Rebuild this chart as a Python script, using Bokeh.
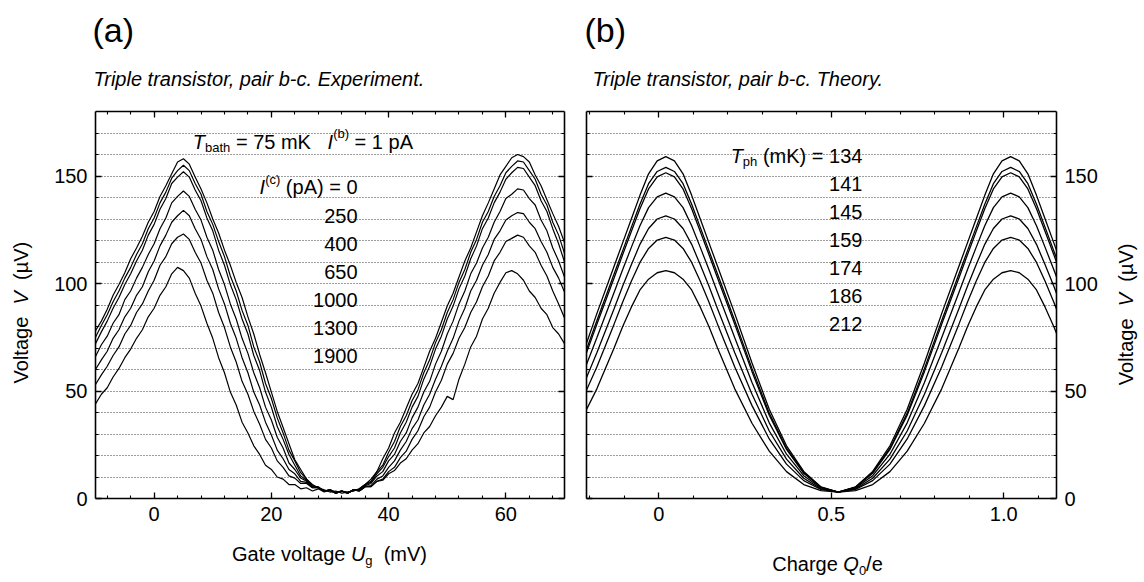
import math
from bokeh.plotting import figure
from bokeh.models import LinearAxis, FixedTicker, Label, Range1d
from bokeh.layouts import row, column
from bokeh.embed import file_html
from bokeh.resources import INLINE

# ---------------- data ----------------
# panel (a): gate voltage in mV, voltage in microvolts
gate_mV = list(range(-10, 71))
exp_0pA = [78, 82.5, 88, 94.5, 99.5, 105, 111.5, 116.5, 122, 128.5,
           133.5, 140.5, 145.5, 151, 156.5, 158, 155.5, 149.5, 144, 137.5,
           130, 123.5, 115.5, 108.5, 100.5, 93.5, 84.5, 76.5, 67, 58.5,
           49.5, 40.5, 33, 25.5, 18, 13.5, 9, 6.5, 5, 4,
           3, 3.5, 2.5, 3, 3.5, 4.5, 6.5, 9, 12.5, 18.5,
           23.5, 30.5, 35.5, 42, 48.5, 53.5, 61, 68.5, 74.5, 82,
           89.5, 95.5, 103, 110.5, 116.5, 124, 131.5, 137.5, 144, 150.5,
           154.5, 158.5, 160, 159, 156.5, 150.5, 145.5, 139, 132.5, 126.5,
           119]
exp_250pA = [75, 80.5, 85.5, 91.5, 96.5, 102.5, 107.5, 113.5, 118.5, 125.5,
             130.5, 137.5, 142.5, 149, 152.5, 155, 152.5, 146.5, 141.5, 133.5,
             127.5, 119.5, 112.5, 103.5, 96.5, 87.5, 80.5, 70.5, 63.5, 53.5,
             46.5, 37.5, 30.5, 22.5, 17.5, 12, 9, 6, 5, 3.5,
             3.5, 2.5, 3.5, 3, 3.5, 4.5, 6.5, 8, 12.5, 15.5,
             21.5, 26.5, 33.5, 38.5, 45.5, 50.5, 58.5, 64.5, 72.5, 78.5,
             86.5, 92.5, 100.5, 106.5, 114.5, 120.5, 128.5, 133.5, 140.5, 145.5,
             151.5, 154.5, 157, 156.5, 152.5, 148.5, 141.5, 136.5, 128.5, 122.5,
             114]
exp_400pA = [72, 77.5, 82.5, 88.5, 93.5, 99.5, 104.5, 110.5, 115.5, 122.5,
             127.5, 134.5, 139.5, 146.5, 149.5, 152, 149.5, 143.5, 138.5, 130.5,
             124.5, 115.5, 108.5, 99.5, 92.5, 83.5, 76.5, 66.5, 59.5, 49.5,
             42.5, 33.5, 27.5, 20.5, 15.5, 10.5, 8.5, 5.5, 5, 3.5,
             4, 2.5, 3.5, 2.5, 4, 4, 6.5, 7.5, 11.5, 14.5,
             19.5, 23.5, 30.5, 35.5, 42.5, 47.5, 55.5, 61.5, 69.5, 75.5,
             83.5, 89.5, 97.5, 103.5, 111.5, 117.5, 125.5, 130.5, 137.5, 142.5,
             148.5, 151.5, 154, 153.5, 149.5, 145.5, 138.5, 133.5, 125.5, 118.5,
             110]
exp_650pA = [66, 71.5, 75.5, 81.5, 85.5, 92.5, 96.5, 102.5, 107.5, 113.5,
             118.5, 125.5, 130.5, 137.5, 140.5, 143, 140.5, 134.5, 129.5, 121.5,
             115.5, 106.5, 99.5, 90.5, 83.5, 74.5, 67.5, 58.5, 51.5, 42.5,
             36.5, 28.5, 23.5, 16.5, 13.5, 9.5, 8, 5.5, 5.5, 3.5,
             4, 2.5, 3.5, 2.5, 4, 4, 6, 7, 10.5, 12.5,
             17.5, 20.5, 26.5, 30.5, 37.5, 42.5, 49.5, 54.5, 62.5, 68.5,
             76.5, 82.5, 90.5, 96.5, 104.5, 109.5, 116.5, 121.5, 128.5, 133.5,
             139.5, 141.5, 144, 143.5, 139.5, 136.5, 129.5, 124.5, 116.5, 110.5,
             103]
exp_1000pA = [60, 64.5, 68.5, 74.5, 78.5, 84.5, 88.5, 94.5, 98.5, 105.5,
              110.5, 117.5, 122.5, 128.5, 131.5, 134, 131.5, 125.5, 120.5, 112.5,
              106.5, 97.5, 90.5, 81.5, 74.5, 65.5, 58.5, 49.5, 43.5, 35.5,
              29.5, 22.5, 18.5, 13.5, 11.5, 8, 7.5, 5, 5, 3.5,
              4, 2.5, 3.5, 2.5, 4, 3.5, 5.5, 6, 9, 10.5,
              14.5, 17.5, 22.5, 26.5, 32.5, 36.5, 43.5, 48.5, 55.5, 61.5,
              68.5, 74.5, 82.5, 88.5, 96.5, 101.5, 108.5, 113.5, 120.5, 124.5,
              129.5, 131.5, 133, 132.5, 128.5, 125.5, 119.5, 114.5, 107.5, 102.5,
              96]
exp_1300pA = [53, 57.5, 61.5, 66.5, 70.5, 76.5, 80.5, 86.5, 90.5, 96.5,
              101.5, 108.5, 112.5, 118.5, 121.5, 123, 120.5, 114.5, 109.5, 101.5,
              95.5, 86.5, 79.5, 70.5, 63.5, 54.5, 48.5, 40.5, 34.5, 27.5,
              23.5, 17.5, 14.5, 10.5, 9.5, 7, 7, 5, 5, 3.5,
              4, 2.5, 3.5, 2.5, 4, 3.5, 5.5, 5.5, 8, 9,
              12.5, 14.5, 19, 22, 27.5, 31.5, 38, 42.5, 49.5, 55,
              62.5, 67.5, 74.5, 79.5, 86.5, 91.5, 98.5, 103.5, 110.5, 114.5,
              119.5, 121, 122.5, 121.5, 117.5, 114.5, 108.5, 103.5, 96.5, 90.5,
              84]
exp_1900pA = [44, 48.5, 51.5, 56.5, 60.5, 65.5, 69.5, 74.5, 78.5, 84.5,
              88.5, 94.5, 98.5, 104.5, 107.5, 106, 102.5, 95.5, 89.5, 81.5,
              74.5, 65.5, 58.5, 49.5, 43.5, 35.5, 30.5, 24.5, 20.5, 15.5,
              13.5, 10, 9, 6.5, 6.5, 4.5, 5, 3.5, 4.5, 3,
              4, 3, 3.5, 2.5, 4, 3.5, 5.5, 5.5, 8, 8.5,
              11.5, 13, 16.5, 18.5, 22.5, 25.5, 30.5, 33.5, 38.5, 42.5,
              47.5, 46, 55.5, 62.5, 70.5, 75.5, 83.5, 88.5, 95.5, 100.5,
              105, 106, 104.5, 101.5, 96.5, 93.5, 88.5, 85.5, 79.5, 76.5,
              72]
exp_series = [exp_0pA, exp_250pA, exp_400pA, exp_650pA, exp_1000pA, exp_1300pA, exp_1900pA]
current_labels = ["0", "250", "400", "650", "1000", "1300", "1900"]

# panel (b): charge Q0/e, voltage in microvolts
charge = [-0.23, -0.18, -0.13, -0.105, -0.08, -0.055, -0.03, -0.005, 0.02, 0.045,
          0.07, 0.095, 0.12, 0.145, 0.17, 0.22, 0.27, 0.32, 0.37, 0.42,
          0.47, 0.52, 0.57, 0.62, 0.67, 0.72, 0.77, 0.82, 0.87, 0.895,
          0.92, 0.945, 0.97, 0.995, 1.02, 1.045, 1.07, 1.095, 1.12, 1.145, 1.17]
th_134mK = [63, 86, 108, 119, 130, 141, 151, 157, 159, 157, 151, 141, 130, 119, 108, 86, 63, 41.5, 24.5, 12.6,
            5.4, 3, 5.4, 12.6, 24.5, 41.5, 63, 86, 108, 119, 130, 141, 151, 157, 159, 157, 151, 141, 130, 119, 108]
th_141mK = [60.4, 82.7, 104.4, 115.3, 126.1, 136.9, 146.4, 152.1, 154, 152.1, 146.4, 136.9, 126.1, 115.3, 104.4,
            82.7, 60.4, 39.7, 23.4, 12.0, 5.2, 3, 5.2, 12.0, 23.4, 39.7, 60.4, 82.7, 104.4, 115.3, 126.1, 136.9,
            146.4, 152.1, 154, 152.1, 146.4, 136.9, 126.1, 115.3, 104.4]
th_145mK = [59.0, 81.0, 102.6, 113.5, 124.2, 134.8, 144.0, 149.6, 151.5, 149.6, 144.0, 134.8, 124.2, 113.5, 102.6,
            81.0, 59.0, 38.7, 22.8, 11.7, 5.2, 3, 5.2, 11.7, 22.8, 38.7, 59.0, 81.0, 102.6, 113.5, 124.2, 134.8,
            144.0, 149.6, 151.5, 149.6, 144.0, 134.8, 124.2, 113.5, 102.6]
th_159mK = [54.0, 74.8, 95.8, 106.5, 116.8, 126.9, 135.3, 140.3, 142, 140.3, 135.3, 126.9, 116.8, 106.5, 95.8,
            74.8, 54.0, 35.2, 20.6, 10.6, 4.9, 3, 4.9, 10.6, 20.6, 35.2, 54.0, 74.8, 95.8, 106.5, 116.8, 126.9,
            135.3, 140.3, 142, 140.3, 135.3, 126.9, 116.8, 106.5, 95.8]
th_174mK = [48.5, 67.8, 88.3, 98.8, 108.7, 118.2, 125.6, 130.0, 131.5, 130.0, 125.6, 118.2, 108.7, 98.8, 88.3,
            67.8, 48.5, 31.4, 18.3, 9.4, 4.5, 3, 4.5, 9.4, 18.3, 31.4, 48.5, 67.8, 88.3, 98.8, 108.7, 118.2,
            125.6, 130.0, 131.5, 130.0, 125.6, 118.2, 108.7, 98.8, 88.3]
th_186mK = [43.2, 61.2, 81.1, 91.4, 101.0, 109.8, 116.3, 120.2, 121.5, 120.2, 116.3, 109.8, 101.0, 91.4, 81.1,
            61.2, 43.2, 27.7, 16.0, 8.3, 4.2, 3, 4.2, 8.3, 16.0, 27.7, 43.2, 61.2, 81.1, 91.4, 101.0, 109.8,
            116.3, 120.2, 121.5, 120.2, 116.3, 109.8, 101.0, 91.4, 81.1]
th_212mK = [35, 51, 70, 80, 89, 97, 102, 105, 106, 105, 102, 97, 89, 80, 70, 51, 35, 22, 12.5, 6.5,
            3.7, 3, 3.7, 6.5, 12.5, 22, 35, 51, 70, 80, 89, 97, 102, 105, 106, 105, 102, 97, 89, 80, 70]
th_series = [th_134mK, th_141mK, th_145mK, th_159mK, th_174mK, th_186mK, th_212mK]
temp_labels = ["134", "141", "145", "159", "174", "186", "212"]

# tick labels
a_xticks = [0, 20, 40, 60]
b_xticks = [0, 0.5, 1.0]
b_xtick_labels = ["0", "0.5", "1.0"]
v_ticks = [0, 50, 100, 150]

# ---------------- helpers ----------------
FONT = "Liberation Sans"
ADV = {" ": 0.278, "(": 0.333, ")": 0.333, "/": 0.278, "=": 0.584, ".": 0.278, ",": 0.278, "-": 0.333,
       "A": 0.667, "C": 0.722, "E": 0.667, "G": 0.778, "I": 0.278, "K": 0.667, "Q": 0.778, "T": 0.611,
       "U": 0.722, "V": 0.667, "a": 0.556, "b": 0.556, "c": 0.5, "e": 0.556, "g": 0.556, "h": 0.556,
       "i": 0.222, "k": 0.5, "l": 0.222, "m": 0.833, "n": 0.556, "o": 0.556, "p": 0.556, "r": 0.333,
       "s": 0.5, "t": 0.278, "u": 0.556, "v": 0.5, "x": 0.5, "y": 0.5, "\u00b5": 0.556}


def tw(s, size):
    return sum(ADV.get(ch, 0.556) for ch in s) * size


def chain(p, x, y, pieces, align="left", angle=0.0):
    """pieces: (text, size_px, style, shift_px); consecutive pieces set side by side."""
    total = sum(tw(t, sz) for t, sz, st, sh in pieces)
    off = {"left": 0.0, "right": -total, "center": -total / 2}[align]
    for t, sz, st, sh in pieces:
        lead = len(t) - len(t.lstrip(" "))
        txt = t.strip(" ")
        start = off + tw(" " * lead, sz)
        if angle == 0:
            xo, yo = start, sh
        else:
            xo, yo = -sh, start
        p.add_layout(Label(x=x, y=y, x_offset=xo, y_offset=yo, text=txt, angle=angle,
                           text_font=FONT, text_font_size=f"{sz}px", text_font_style=st,
                           text_align="left", text_baseline="middle", text_color="black"))
        off += tw(t, sz)


def style_axis(ax, ticks, minor, show, overrides=None):
    ax.ticker = FixedTicker(ticks=ticks, minor_ticks=minor)
    ax.axis_line_width = 1.6
    ax.axis_line_color = "black"
    ax.major_tick_in = 6
    ax.major_tick_out = 0
    ax.minor_tick_in = 3
    ax.minor_tick_out = 0
    ax.major_tick_line_width = 1.3
    ax.minor_tick_line_width = 1.1
    ax.major_tick_line_color = "black"
    ax.minor_tick_line_color = "black"
    ax.major_label_text_font = FONT
    ax.major_label_text_color = "black"
    if show:
        ax.major_label_text_font_size = "20px"
        ax.major_label_standoff = 8
        if overrides:
            ax.major_label_overrides = overrides
    else:
        ax.major_label_text_font_size = "1px"
        ax.major_label_standoff = 0
        ax.major_label_overrides = {t: "" for t in ticks}


def make_fig(width, xr, b_left, b_right):
    p = figure(width=width, height=444, x_range=Range1d(*xr), y_range=Range1d(0, 180),
               output_backend="svg", toolbar_location=None,
               min_border_left=b_left, min_border_right=b_right,
               min_border_top=19, min_border_bottom=38)
    p.outline_line_color = None
    p.xgrid.visible = False
    p.ygrid.ticker = FixedTicker(ticks=list(range(10, 180, 10)))
    p.ygrid.grid_line_color = "#3a3a3a"
    p.ygrid.grid_line_dash = "1 2"
    p.ygrid.grid_line_width = 1
    return p


def text_fig(width, height):
    p = figure(width=width, height=height, x_range=Range1d(0, width), y_range=Range1d(0, height),
               output_backend="svg", toolbar_location=None, min_border=0,
               x_axis_location=None, y_axis_location=None)
    p.grid.visible = False
    p.outline_line_color = None
    return p


v_minor = list(range(10, 180, 10))
a_minor = list(range(-8, 71, 4))
b_minor = [-0.2, -0.1, 0.1, 0.2, 0.3, 0.4, 0.6, 0.7, 0.8, 0.9, 1.1]

# ---------------- panel (a) ----------------
pa = make_fig(529, (-10, 70), 49, 11)
style_axis(pa.xaxis[0], a_xticks, a_minor, True)
style_axis(pa.yaxis[0], v_ticks, v_minor, True)
ax_top = LinearAxis()
style_axis(ax_top, a_xticks, a_minor, False)
pa.add_layout(ax_top, "above")
ax_right = LinearAxis()
style_axis(ax_right, v_ticks, v_minor, False)
pa.add_layout(ax_right, "right")

for s in exp_series:
    pa.line(gate_mV, s, line_color="black", line_width=1.2)

chain(pa, 6.6, 166, [("T", 20, "italic", 0), ("bath", 13, "normal", -6), (" = 75 mK   ", 20, "normal", 0),
                     ("I", 20, "italic", 0), ("(b)", 13, "normal", 8), (" = 1 pA", 20, "normal", 0)])
chain(pa, 34.7, 144.7, [("I", 20, "italic", 0), ("(c)", 13, "normal", 8), (" (pA) = ", 20, "normal", 0),
                        (current_labels[0], 20, "normal", 0)], "right")
for i, lab in enumerate(current_labels[1:]):
    chain(pa, 34.7, 131.6 - 13.05 * i, [(lab, 20, "normal", 0)], "right")

# ---------------- panel (b) ----------------
pb = make_fig(529, (-0.21, 1.153), 11, 48)
pb.yaxis.visible = False
style_axis(pb.xaxis[0], b_xticks, b_minor, True, dict(zip(b_xticks, b_xtick_labels)))
ax_r = LinearAxis()
style_axis(ax_r, v_ticks, v_minor, True)
pb.add_layout(ax_r, "right")
ax_l = LinearAxis()
style_axis(ax_l, v_ticks, v_minor, False)
pb.add_layout(ax_l, "left")
ax_t = LinearAxis()
style_axis(ax_t, b_xticks, b_minor, False)
pb.add_layout(ax_t, "above")

for s in th_series:
    pb.line(charge, s, line_color="black", line_width=1.3)

chain(pb, 0.59, 159.5, [("T", 20, "italic", 0), ("ph", 13, "normal", -6), (" (mK) = ", 20, "normal", 0),
                        (temp_labels[0], 20, "normal", 0)], "right")
for i, lab in enumerate(temp_labels[1:]):
    chain(pb, 0.59, 146.4 - 13.03 * i, [(lab, 20, "normal", 0)], "right")

# ---------------- text strips around the panels ----------------
header = text_fig(1142, 92)
chain(header, 92, 63, [("(a)", 34, "normal", 0)])
chain(header, 93, 14, [("Triple transistor, pair b-c. Experiment.", 20, "italic", 0)])
chain(header, 584, 63, [("(b)", 34, "normal", 0)])
chain(header, 592, 14, [("Triple transistor, pair b-c. Theory.", 20, "italic", 0)])

ylab_left = text_fig(46, 444)
chain(ylab_left, 20, 213, [("Voltage  ", 20, "normal", 0), ("V", 20, "italic", 0),
                           ("  (\u00b5V)", 20, "normal", 0)], "center", angle=math.pi / 2)
ylab_right = text_fig(38, 444)
chain(ylab_right, 21, 211, [("Voltage  ", 20, "normal", 0), ("V", 20, "italic", 0),
                            ("  (\u00b5V)", 20, "normal", 0)], "center", angle=math.pi / 2)

footer = text_fig(1142, 44)
chain(footer, 329, 27, [("Gate voltage ", 20, "normal", 0), ("U", 20, "italic", 0),
                        ("g", 13, "normal", -7), ("  (mV)", 20, "normal", 0)], "center")
chain(footer, 827, 17, [("Charge ", 20, "normal", 0), ("Q", 20, "italic", 0), ("0", 13, "normal", -7),
                        ("/e", 20, "normal", 0)], "center")

layout = column(header, row(ylab_left, pa, pb, ylab_right), footer)
open("out.html", "w", encoding="utf-8").write(file_html(layout, INLINE))
